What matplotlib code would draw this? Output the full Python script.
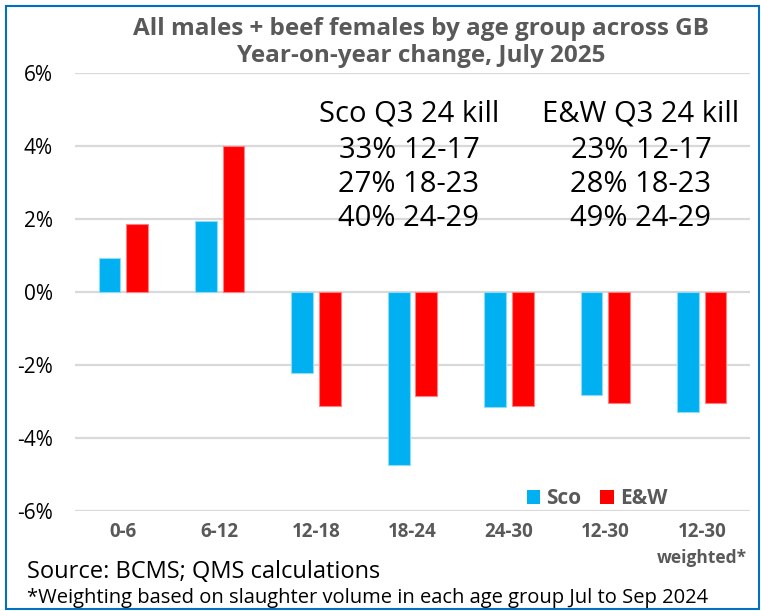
import numpy as np
import matplotlib
matplotlib.use('Agg')
import matplotlib.pyplot as plt
from matplotlib.patches import Patch, Rectangle
from matplotlib.transforms import blended_transform_factory

# data (% year-on-year change)
groups = ['0-6', '6-12', '12-18', '18-24', '24-30', '12-30', '12-30']
sco = [0.93, 1.95, -2.21, -4.75, -3.15, -2.81, -3.28]
ew = [1.87, 4.00, -3.13, -2.84, -3.12, -3.04, -3.04]
yticks = [-6, -4, -2, 0, 2, 4, 6]

sco_notes = ['Sco Q3 24 kill', '33% 12-17', '27% 18-23', '40% 24-29']
ew_notes = ['E&W Q3 24 kill', '23% 12-17', '28% 18-23', '49% 24-29']

BLUE = '#00B0F0'
RED = '#FF0000'
GREY = '#595959'

plt.rcParams['font.family'] = ['Open Sans', 'DejaVu Sans']

W, H = 761, 611
fig = plt.figure(figsize=(W / 100, H / 100), dpi=100)

def fx(px):
    return px / W

def fy(py):
    return 1 - py / H

ax = fig.add_axes([fx(75), fy(511), fx(750) - fx(75), fy(73) - fy(511)])

x = np.arange(len(groups))
bw = 0.225
off = 0.1425
ax.bar(x - off, sco, bw, color=BLUE, edgecolor='#8FDCF8', linewidth=0.8, zorder=3)
ax.bar(x + off, ew, bw, color=RED, edgecolor='#FF8080', linewidth=0.8, zorder=3)

ax.set_xlim(-0.5, len(groups) - 0.5)
ax.set_ylim(-6, 6)
ax.set_yticks(yticks)
ax.set_yticklabels(['%d%%' % v for v in yticks], fontsize=15, color='black')
ax.yaxis.grid(True, color='#D9D9D9', linewidth=1.6, zorder=0)
ax.set_axisbelow(True)
for s in ax.spines.values():
    s.set_visible(False)
ax.tick_params(axis='y', length=0, pad=16)
ax.tick_params(axis='x', length=0, pad=8)
ax.set_xticks(x)
ax.set_xticklabels(groups, fontsize=13.5, fontweight='bold', color=GREY)
trans = blended_transform_factory(ax.transData, ax.transAxes)
ax.text(x[-1], -(558 - 511) / 438, 'weighted*', transform=trans, ha='center', va='center',
        fontsize=12.5, fontweight='bold', color=GREY)

# title
fig.text(fx(421), fy(29), 'All males + beef females by age group across GB',
         ha='center', va='center', fontsize=17.5, fontweight='bold', color=GREY)
fig.text(fx(421), fy(56), 'Year-on-year change, July 2025',
         ha='center', va='center', fontsize=17.5, fontweight='bold', color=GREY)

# annotation block
rows = [114, 151, 185, 219]
for t, yy in zip(sco_notes, rows):
    fig.text(fx(409), fy(yy), t, ha='center', va='center', fontsize=21, color='black')
for t, yy in zip(ew_notes, rows):
    fig.text(fx(641), fy(yy), t, ha='center', va='center', fontsize=21, color='black')

# legend
handles = [Patch(facecolor=BLUE, edgecolor='none'), Patch(facecolor=RED, edgecolor='none')]
leg = fig.legend(handles, ['Sco', 'E&W'], loc='center', bbox_to_anchor=(fx(597), fy(499)),
                 ncol=2, frameon=False, handlelength=0.65, handleheight=0.65,
                 handletextpad=0.3, columnspacing=0.9,
                 prop={'size': 15, 'weight': 'bold'})
for t in leg.get_texts():
    t.set_color(GREY)

# sources
fig.text(fx(27), fy(572), 'Source: BCMS; QMS calculations', ha='left', va='center',
         fontsize=17, color='black')
fig.text(fx(27), fy(598), '*Weighting based on slaughter volume in each age group Jul to Sep 2024',
         ha='left', va='center', fontsize=14.5, color='black')

# frame
fig.patches.append(Rectangle((fx(6), fy(609)), fx(759) - fx(6), fy(6) - fy(609),
                             transform=fig.transFigure, fill=False,
                             edgecolor='#0070C0', linewidth=1.5))

fig.savefig('out.png', dpi=100)
